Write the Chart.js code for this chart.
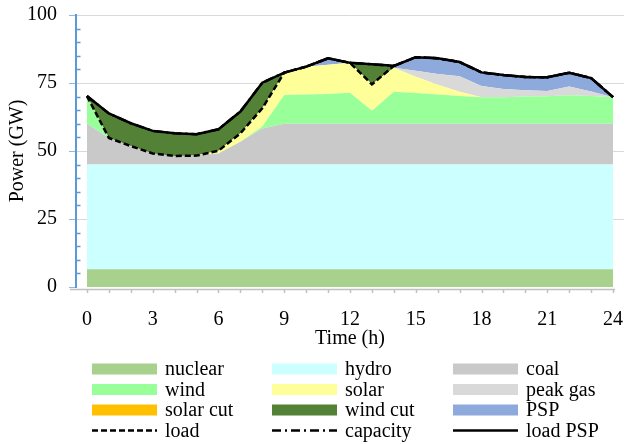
<!DOCTYPE html>
<html>
<head>
<meta charset="utf-8">
<script src="https://cdn.jsdelivr.net/npm/chart.js@4.4.0/dist/chart.umd.min.js"></script>
<style>
  html, body { margin: 0; padding: 0; background: #fff; }
  #wrap { width: 625px; height: 444px; position: relative; }
</style>
</head>
<body>
<div id="wrap"><canvas id="c"></canvas></div>
<script>
// Hourly generation mix (GW), stacked bottom to top
const hours = [0, 1, 2, 3, 4, 5, 6, 7, 8, 9, 10, 11, 12, 13, 14, 15, 16, 17, 18, 19, 20, 21, 22, 23, 24];
const xTickLabels = ['0', '3', '6', '9', '12', '15', '18', '21', '24'];
const yTickValues = [0, 25, 50, 75, 100];

const nuclear  = [6.5, 6.5, 6.5, 6.5, 6.5, 6.5, 6.5, 6.5, 6.5, 6.5, 6.5, 6.5, 6.5, 6.5, 6.5, 6.5, 6.5, 6.5, 6.5, 6.5, 6.5, 6.5, 6.5, 6.5, 6.5];
const hydro    = [38.5, 38.5, 38.5, 38.5, 38.5, 38.5, 38.5, 38.5, 38.5, 38.5, 38.5, 38.5, 38.5, 38.5, 38.5, 38.5, 38.5, 38.5, 38.5, 38.5, 38.5, 38.5, 38.5, 38.5, 38.5];
const coal     = [15, 9.8, 6.8, 4.1, 3.2, 3.3, 4.1, 8.4, 13.3, 15, 15, 15, 15, 15, 15, 15, 15, 15, 15, 15, 15, 15, 15, 15, 15];
const wind     = [10.2, 0, 0, 0, 0, 0, 0, 0, 0.7, 10.6, 10.8, 11.0, 11.4, 4.8, 11.8, 11.3, 10.8, 10.2, 9.8, 9.8, 10.0, 10.1, 10.5, 10.2, 9.8];
const solar    = [0, 0, 0, 0, 0, 0, 1.0, 3.1, 6.7, 8.2, 10.2, 10.7, 11.0, 9.7, 8.8, 6.0, 3.6, 1.6, 0, 0, 0, 0, 0, 0, 0];
const peakGas  = [0, 0, 0, 0, 0, 0, 0, 0, 0, 0, 0, 0, 0, 0, 0, 2.2, 3.9, 5.7, 4.1, 3.0, 2.3, 2.0, 3.2, 1.7, 0];
const solarCut = [0, 0, 0, 0, 0, 0, 0, 0, 0, 0, 0, 0, 0, 0, 0, 0, 0, 0, 0, 0, 0, 0, 0, 0, 0];
const windCut  = [0, 9.0, 8.4, 8.3, 8.3, 7.9, 7.9, 8.0, 9.4, 0, 0, 0, 0, 7.4, 0, 0, 0, 0, 0, 0, 0, 0, 0, 0, 0];
const psp      = [0, 0, 0, 0, 0, 0, 0, 0, 0, 0, 0, 2.4, 0, 0, 0.7, 5.0, 5.8, 5.2, 5.0, 5.1, 4.9, 5.0, 5.1, 4.9, 0];

// Demand curves (GW)
const load     = [70.2, 54.8, 51.8, 49.1, 48.2, 48.3, 50.1, 56.5, 65.7, 78.8, 81.0, 84.1, 82.4, 74.5, 81.3, 84.5, 84.1, 82.7, 78.9, 77.9, 77.2, 77.1, 78.8, 76.8, 69.8];
const capacity = [70.2, 63.8, 60.2, 57.4, 56.5, 56.2, 58.0, 64.5, 75.1, 78.8, 81.0, 84.1, 82.4, 81.9, 81.3, 84.5, 84.1, 82.7, 78.9, 77.9, 77.2, 77.1, 78.8, 76.8, 69.8];
const loadPSP  = [70.2, 63.8, 60.2, 57.4, 56.5, 56.2, 58.0, 64.5, 75.1, 78.8, 81.0, 84.1, 82.4, 81.9, 81.3, 84.5, 84.1, 82.7, 78.9, 77.9, 77.2, 77.1, 78.8, 76.8, 69.8];

const pts = arr => hours.map((h, i) => ({ x: h, y: arr[i] }));

function area(label, values, color, first) {
  return {
    label, data: pts(values), stack: 'gen', order: 10,
    backgroundColor: color, borderColor: 'transparent', borderWidth: 0,
    fill: first ? 'origin' : '-1', pointRadius: 0, tension: 0
  };
}
function curve(label, values, dash, order) {
  return {
    label, data: pts(values), stack: 'line-' + label, order,
    borderColor: '#000', backgroundColor: '#000', borderWidth: 2.5,
    borderDash: dash, fill: false, pointRadius: 0, tension: 0
  };
}

const datasets = [
  area('nuclear', nuclear, '#A9D18E', true),
  area('hydro', hydro, '#CCFFFF'),
  area('coal', coal, '#C9C9C9'),
  area('wind', wind, '#99FF99'),
  area('solar', solar, '#FFFF99'),
  area('peak gas', peakGas, '#D9D9D9'),
  area('solar cut', solarCut, '#FFC000'),
  area('wind cut', windCut, '#538135'),
  area('PSP', psp, '#8EA9DB'),
  curve('load', load, [6, 3], 2),
  curve('capacity', capacity, [9, 4, 2, 4], 3),
  curve('load PSP', loadPSP, [], 1)
];

// Axis decorations: grey time axis with hourly ticks, blue minor ticks on the power axis
const axisDecor = {
  id: 'axisDecor',
  afterDatasetsDraw(chart) {
    const { ctx, chartArea, scales: { x, y } } = chart;
    const yAxis = chartArea.bottom + 2.5;
    ctx.save();
    ctx.strokeStyle = '#C0C0C0';
    ctx.lineWidth = 1.5;
    ctx.beginPath();
    ctx.moveTo(chartArea.left - 6, yAxis);
    ctx.lineTo(x.getPixelForValue(24) + 2, yAxis);
    hours.forEach(h => {
      const px = Math.round(x.getPixelForValue(h)) + 0.5;
      ctx.moveTo(px, yAxis);
      ctx.lineTo(px, yAxis + 3.5);
    });
    ctx.stroke();
    ctx.strokeStyle = '#5B9BD5';
    ctx.lineWidth = 1.5;
    ctx.beginPath();
    for (let v = 5; v < 100; v += 5) {
      if (v % 25 === 0) continue;
      const py = Math.round(y.getPixelForValue(v)) + 0.5;
      ctx.moveTo(chartArea.left, py);
      ctx.lineTo(chartArea.left + 4.5, py);
    }
    ctx.stroke();
    ctx.restore();
  }
};

// Three-column legend below the axis
const gridLegend = {
  id: 'gridLegend',
  afterDraw(chart) {
    const ctx = chart.ctx;
    const colX = [92, 272, 453];
    const rowY = [369, 389.5, 410, 430.5];
    ctx.save();
    ctx.font = '20px "Liberation Serif"';
    ctx.textBaseline = 'middle';
    ctx.textAlign = 'left';
    chart.data.datasets.forEach((ds, i) => {
      const bx = colX[i % 3];
      const cy = rowY[Math.floor(i / 3)];
      if (ds.fill !== false) {
        ctx.fillStyle = ds.backgroundColor;
        ctx.fillRect(bx, cy - 5.5, 65, 11);
      } else {
        ctx.strokeStyle = ds.borderColor;
        ctx.lineWidth = ds.borderWidth;
        ctx.setLineDash(ds.borderDash);
        ctx.beginPath();
        ctx.moveTo(bx, cy);
        ctx.lineTo(bx + 65, cy);
        ctx.stroke();
        ctx.setLineDash([]);
      }
      ctx.fillStyle = '#000';
      ctx.fillText(ds.label, bx + 73, cy + 1);
    });
    ctx.restore();
  }
};

Chart.defaults.font.family = '"Liberation Serif", "Times New Roman", serif';
Chart.defaults.font.size = 20;
Chart.defaults.color = '#000';

new Chart(document.getElementById('c'), {
  type: 'line',
  data: { datasets },
  options: {
    responsive: true,
    maintainAspectRatio: false,
    animation: false,
    events: [],
    layout: { padding: { top: 15, right: 1, bottom: 93, left: 0 } },
    plugins: { legend: { display: false }, tooltip: { enabled: false } },
    scales: {
      x: {
        type: 'linear', min: -0.5, max: 24.5,
        afterBuildTicks: s => { s.ticks = hours.map(h => ({ value: h })); },
        afterFit: s => { s.height = 64; s.paddingLeft = 0; s.paddingRight = 0; },
        ticks: {
          autoSkip: false, maxRotation: 0, padding: 13,
          callback: v => (v % 3 === 0 ? xTickLabels[v / 3] : '')
        },
        grid: { display: false },
        border: { display: false },
        title: { display: true, text: 'Time (h)', padding: { top: 0, bottom: 0 } }
      },
      y: {
        stacked: true, min: 0, max: 100,
        afterBuildTicks: s => { s.ticks = yTickValues.map(v => ({ value: v })); },
        afterFit: s => { s.width = 76; s.paddingTop = 0; s.paddingBottom = 0; },
        ticks: { padding: 12 },
        grid: {
          color: ctx => (ctx.tick && ctx.tick.value === 0 ? 'rgba(0,0,0,0)' : '#D9D9D9'),
          lineWidth: 1, tickLength: 7, tickColor: '#8FB9E3'
        },
        border: { display: true, color: '#5B9BD5', width: 2 },
        title: { display: true, text: 'Power (GW)', padding: { top: 6, bottom: 0 } }
      }
    }
  },
  plugins: [axisDecor, gridLegend]
});
</script>
</body>
</html>
